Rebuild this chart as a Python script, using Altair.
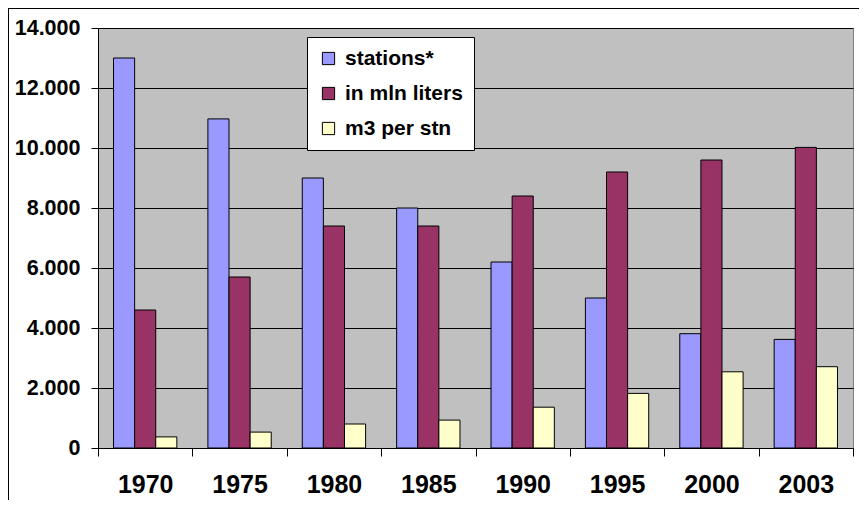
import altair as alt
import pandas as pd

years = ["1970", "1975", "1980", "1985", "1990", "1995", "2000", "2003"]
series = ["stations*", "in mln liters", "m3 per stn"]
stations = [13000, 10970, 9000, 8000, 6200, 5000, 3810, 3620]
liters = [4600, 5700, 7400, 7400, 8400, 9200, 9600, 10020]
m3_per_stn = [370, 530, 800, 930, 1360, 1820, 2540, 2710]
colors = ["#9999FF", "#993366", "#FFFFCC"]
y_ticks = [0, 2000, 4000, 6000, 8000, 10000, 12000, 14000]

rows = []
for s, vals in zip(series, [stations, liters, m3_per_stn]):
    for yr, v in zip(years, vals):
        rows.append({"year": yr, "series": s, "value": v})
df = pd.DataFrame(rows)

FONT = "Liberation Sans"

bars = alt.Chart(df).mark_bar(stroke="black", strokeWidth=1).encode(
    x=alt.X(
        "year:N", sort=years,
        scale=alt.Scale(paddingInner=0, paddingOuter=0),
        axis=alt.Axis(
            title=None, labelAngle=0, tickBand="extent", tickSize=8,
            tickColor="black", domainColor="black", labelFont=FONT,
            labelFontSize=25, labelFontWeight="bold", labelColor="black",
            labelPadding=16, grid=False,
        ),
    ),
    xOffset=alt.XOffset(
        "series:N", sort=series,
        scale=alt.Scale(paddingInner=0, paddingOuter=0.735),
    ),
    y=alt.Y(
        "value:Q",
        scale=alt.Scale(domain=[0, 14000], nice=False),
        axis=alt.Axis(
            title=None, values=y_ticks, tickSize=7, tickColor="black",
            domainColor="black", labelFont=FONT, labelFontSize=21.5,
            labelFontWeight="bold", labelColor="black", labelPadding=11,
            labelExpr="replace(format(datum.value, ','), ',', '.')",
            gridColor="#000000", gridWidth=1, gridOpacity=1,
        ),
    ),
    color=alt.Color(
        "series:N", sort=series,
        scale=alt.Scale(domain=series, range=colors),
        legend=alt.Legend(
            title=None, orient="none", legendX=209, legendY=9,
            fillColor="white", strokeColor="black", padding=11,
            symbolType="square", symbolSize=150, symbolStrokeColor="black",
            symbolStrokeWidth=1, labelFont=FONT, labelFontSize=21,
            labelFontWeight="bold", labelColor="black", rowPadding=13,
            labelOffset=6, labelLimit=300,
            labelExpr="datum.label == 'm3 per stn' ? '\u00a0m3 per stn' : datum.label",
        ),
    ),
)

frame_left = alt.Chart(alt.Data(values=[{}])).mark_rule(color="black", strokeWidth=1).encode(
    x=alt.value(-89.5), y=alt.value(-20), y2=alt.value(480)
)
frame_top = alt.Chart(alt.Data(values=[{}])).mark_rule(color="black", strokeWidth=1).encode(
    x=alt.value(-90), x2=alt.value(770), y=alt.value(-19.5)
)

chart = alt.layer(bars, frame_left, frame_top).properties(
    width=755, height=420,
    autosize=alt.AutoSizeParams(type="none"),
    padding={"left": 90, "top": 20, "right": 6, "bottom": 52},
    background="white",
).configure_view(fill="#C0C0C0", stroke="#808080", strokeWidth=1)

chart.save("out.html", embed_options={"renderer": "svg", "actions": False})
